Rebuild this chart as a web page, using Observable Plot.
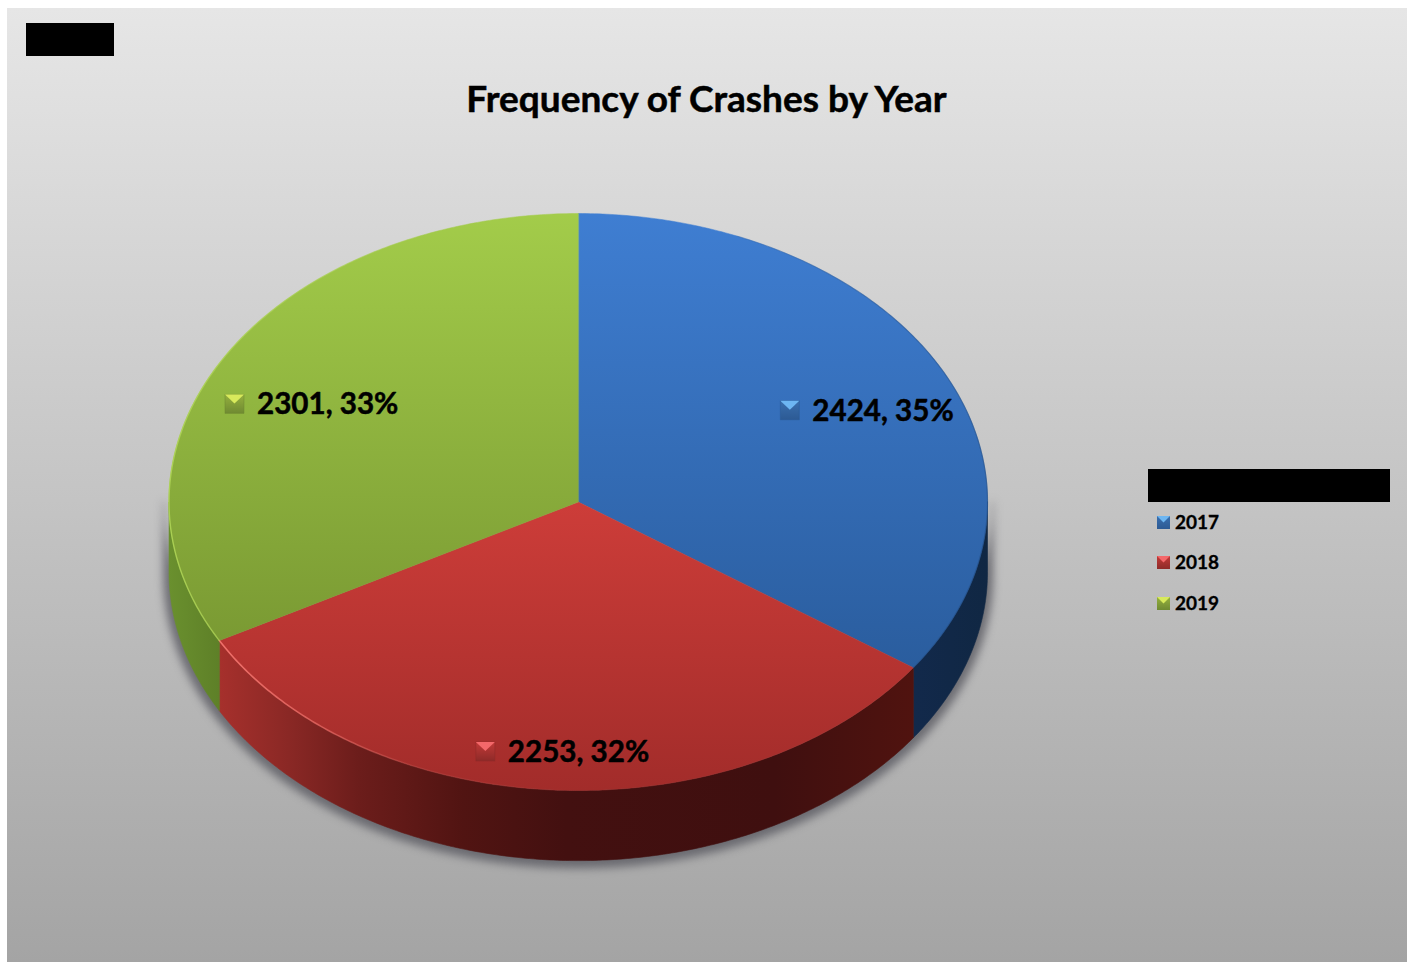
<!DOCTYPE html>
<html><head><meta charset="utf-8">
<script src="https://cdn.jsdelivr.net/npm/d3@7"></script>
<script src="https://cdn.jsdelivr.net/npm/@observablehq/plot@0.6"></script>
<style>
html,body{margin:0;padding:0;background:#fff;overflow:hidden}
#page{position:relative;width:1413px;height:962px;font-family:Lato,sans-serif;font-weight:700;color:#000}
#bg{position:absolute;left:7px;top:8px;width:1400px;height:954px;background:linear-gradient(#e6e6e6,#a4a4a4)}
#chart{position:absolute;left:0;top:0}
#chart svg{display:block}
.box{position:absolute;background:#000}
#title{position:absolute;left:0;width:1413px;top:76px;text-align:center;font-size:37px;line-height:44px;white-space:nowrap;margin:0;font-weight:700;-webkit-text-stroke:0.5px #000}
.lg{position:absolute;left:1175px;font-size:19px;line-height:24px;-webkit-text-stroke:0.3px #000}
.sw{position:absolute;left:1157px;width:13px;height:13px;overflow:hidden}
.sw i{position:absolute;inset:0;clip-path:polygon(0 0,100% 0,50% 50%)}
</style></head><body>
<div id="page"><div id="bg"></div><div id="chart"></div>
<div class="box" style="left:26px;top:23px;width:88px;height:33px"></div>
<h1 id="title">Frequency of Crashes by Year</h1>
<div class="box" style="left:1148px;top:469px;width:242px;height:33px"></div>
</div>
<script>
const years = ["2017", "2018", "2019"];
const crashes = [2424, 2253, 2301];
const total = d3.sum(crashes);

// look of each slice (top gradient, wall gradient, bevel)
const topStops = [["#3f7ed2", "#2a5d9e"], ["#cd3d39", "#a22c2a"], ["#a3cc4a", "#7a9a33"]];
const wallStops = [
  [["0", "#12294b"], ["1", "#102743"]],
  [["0", "#a6302c"], ["0.1", "#8a2825"], ["0.2", "#6c1d1b"], ["0.35", "#511412"], ["0.5", "#431010"], ["0.8", "#3f0f0f"], ["1", "#50130f"]],
  [["0", "#6a902e"], ["1", "#5e8028"]]
];
const rimColor = ["#5f9be8", "#f0706a", "#aed455"];
const bevel = [["#6db6f2", "#3a6fae", "#2c5a94"], ["#f4686a", "#c23a38", "#8e2a28"], ["#d8ea5c", "#95b03e", "#6f8a32"]];

// layout in the unit-ellipse coordinates of the pie
const depth = 70 / 288;
const labelAnchor = [[0.517, 0.318], [-0.227, -0.865], [-0.84, 0.34]];

const arcs = d3.pie().sort(null).startAngle(0).endAngle(2 * Math.PI)(crashes);
const pt = (a, dy = 0, k = 1) => ({x: k * Math.sin(a), y: k * Math.cos(a) + dy});
const sweep = (a0, a1, dy = 0, k = 1) => {
  const n = Math.max(2, Math.ceil(Math.abs(a1 - a0) / 0.01));
  return d3.range(n + 1).map(i => pt(a0 + (a1 - a0) * i / n, dy, k));
};
const H = Math.PI / 2, H3 = 3 * Math.PI / 2;

const defs = () => {
  const d = d3.create("svg:defs");
  const grad = (id, vertical, stops) => {
    const g = d.append("linearGradient").attr("id", id)
      .attr("x1", 0).attr("y1", 0).attr("x2", vertical ? 0 : 1).attr("y2", vertical ? 1 : 0);
    stops.forEach(([o, c, a]) => g.append("stop").attr("offset", o).attr("stop-color", c).attr("stop-opacity", a ?? 1));
  };
  years.forEach((_, i) => {
    grad(`top${i}`, true, [["0", topStops[i][0]], ["1", topStops[i][1]]]);
    grad(`wall${i}`, false, wallStops[i]);
    grad(`body${i}`, true, [["0", bevel[i][1]], ["1", bevel[i][2]]]);
  });
  grad("rim1", false, [["0", rimColor[1], 1], ["0.25", rimColor[1], 0.7], ["0.55", rimColor[1], 0.15], ["1", rimColor[1], 0]]);
  grad("rim2", false, [["0", rimColor[2], 0.9], ["0.6", rimColor[2], 0.4], ["1", rimColor[2], 0]]);
  grad("rim0", false, [["0", "#1f4d88", 0.2], ["1", "#1f4d88", 0.6]]);
  return d.node();
};

const bevelTop = {draw(c, size) {
  const s = Math.sqrt(size) / 2;
  c.moveTo(-s, -s); c.lineTo(s, -s); c.lineTo(0, -s * 0.05); c.closePath();
}};

const shadow = [...sweep(H, H3, -depth - 0.012, 1.012), ...sweep(H3, H, 0, 1.012)];

const walls = arcs.map((a, i) => {
  const a0 = Math.max(a.startAngle, H), a1 = Math.min(a.endAngle, H3);
  return Plot.line([...sweep(a0, a1), ...sweep(a1, a0, -depth)],
    {x: "x", y: "y", fill: `url(#wall${i})`, stroke: `url(#wall${i})`, strokeWidth: 0.6, curve: "linear-closed"});
});
const tops = arcs.map((a, i) => Plot.line([{x: 0, y: 0}, ...sweep(a.startAngle, a.endAngle)],
  {x: "x", y: "y", fill: `url(#top${i})`, stroke: `url(#top${i})`, strokeWidth: 0.5, curve: "linear-closed"}));
const rims = [
  Plot.line(sweep(arcs[1].endAngle, Math.PI), {x: "x", y: "y", stroke: "url(#rim1)", strokeWidth: 1.6}),
  Plot.line(sweep(arcs[2].startAngle, 2 * Math.PI - 0.35), {x: "x", y: "y", stroke: "url(#rim2)", strokeWidth: 1.4}),
  Plot.line(sweep(0.4, arcs[0].endAngle), {x: "x", y: "y", stroke: "url(#rim0)", strokeWidth: 1.2})
];

const labels = years.map((year, i) => ({
  year, i,
  x: labelAnchor[i][0], y: labelAnchor[i][1],
  text: `${crashes[i]}, ${Math.round(crashes[i] / total * 100)}%`
}));

const chart = Plot.plot({
  width: 1413, height: 962, margin: 0,
  style: {background: "transparent"},
  x: {domain: [-1, 1], range: [168.5, 987], axis: null},
  y: {domain: [1, -1], range: [213, 790], axis: null},
  marks: [
    defs,
    Plot.line(shadow, {x: "x", y: "y", fill: "#5a5a62", stroke: "#5a5a62", curve: "linear-closed", opacity: 0.8, imageFilter: "blur(4px)"}),
    ...walls, ...tops, ...rims,
    ...labels.map(d => Plot.dot([d], {x: "x", y: "y", symbol: "square", r: Math.sqrt(361 / Math.PI), fill: `url(#body${d.i})`, stroke: bevel[d.i][2], strokeWidth: 0.5})),
    ...labels.map(d => Plot.dot([d], {x: "x", y: "y", symbol: bevelTop, r: Math.sqrt(361 / Math.PI), fill: bevel[d.i][0]})),
    Plot.text(labels, {x: "x", y: "y", text: "text", dx: 22.5, dy: 1, textAnchor: "start", fontFamily: "Lato, sans-serif", fontWeight: 700, fontSize: 29.6, fill: "#000", stroke: "#000", strokeWidth: 0.5})
  ]
});
document.getElementById("chart").append(chart);

const page = document.getElementById("page");
const legendTop = [522, 562, 603];
years.forEach((y, i) => {
  const sw = document.createElement("div");
  sw.className = "sw";
  sw.style.top = (legendTop[i] - 6) + "px";
  sw.style.background = `linear-gradient(${bevel[i][1]},${bevel[i][2]})`;
  const tri = document.createElement("i");
  tri.style.background = bevel[i][0];
  sw.append(tri);
  const t = document.createElement("div");
  t.className = "lg";
  t.style.top = (legendTop[i] - 12) + "px";
  t.textContent = y;
  page.append(sw, t);
});
</script></body></html>
